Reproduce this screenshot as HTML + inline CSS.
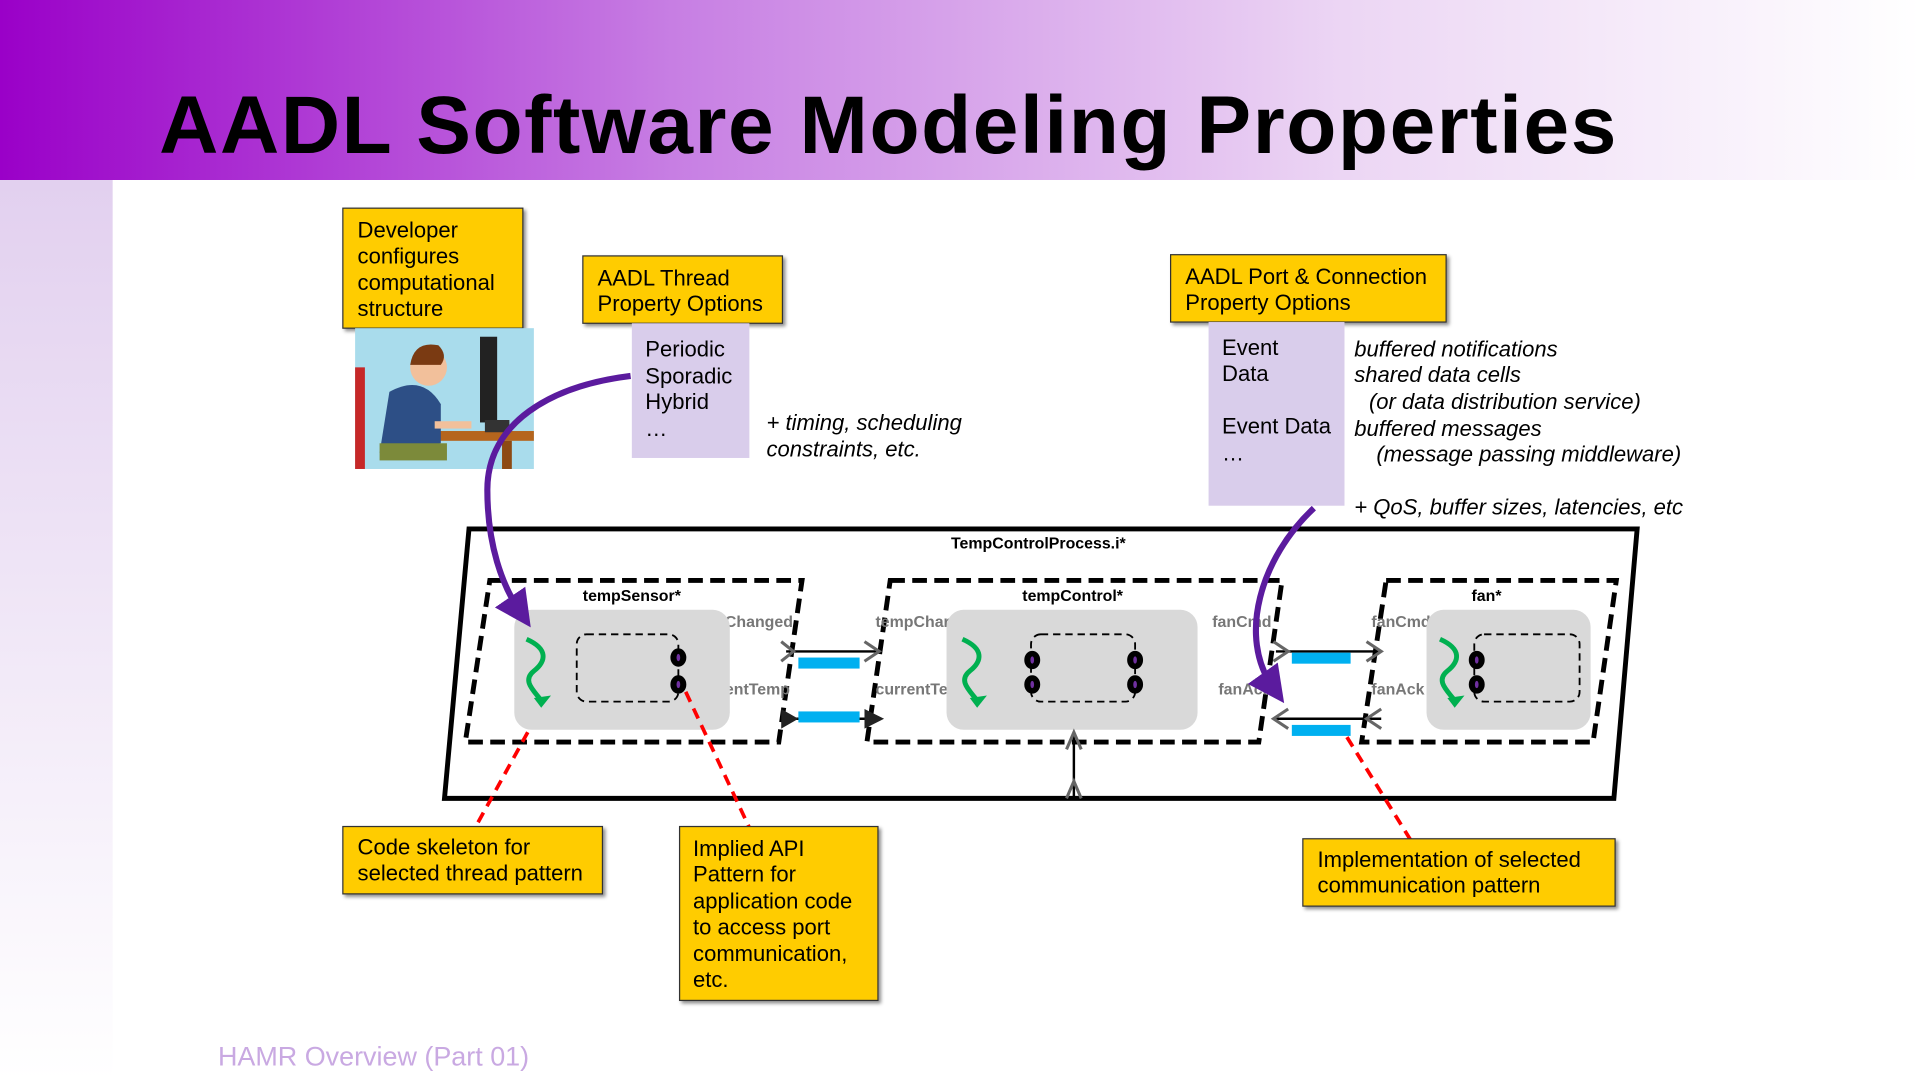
<!DOCTYPE html>
<html><head><meta charset="utf-8"><style>html,body{margin:0;padding:0;background:#fff;overflow:hidden}svg{display:block}</style></head><body>
<svg width="1920" height="1080" viewBox="0 0 1568 882" xmlns="http://www.w3.org/2000/svg" font-family="Liberation Sans, DejaVu Sans, sans-serif">
<defs>
<linearGradient id="hd" x1="0" x2="1" y1="0" y2="0"><stop offset="0" stop-color="#9a00c8"/><stop offset="0.35" stop-color="#c77ee3"/><stop offset="0.7" stop-color="#ecd6f4"/><stop offset="1" stop-color="#ffffff"/></linearGradient>
<linearGradient id="sb" x1="0" x2="0" y1="0" y2="1"><stop offset="0" stop-color="#e2d0ef"/><stop offset="1" stop-color="#ffffff"/></linearGradient>
<marker id="pa" markerWidth="6" markerHeight="6" refX="3" refY="3" orient="auto" markerUnits="strokeWidth"><path d="M0,0 L6,3 L0,6 Z" fill="#5b1b9e"/></marker>
<filter id="sh"><feDropShadow dx="2" dy="2" stdDeviation="1.5" flood-opacity="0.45"/></filter>
</defs>
<rect x="0" y="0" width="1568" height="147" fill="url(#hd)"/>
<rect x="0" y="147" width="92" height="735" fill="url(#sb)"/>
<text x="130" y="125" font-size="67" font-weight="bold" fill="#000" textLength="1190" lengthAdjust="spacing">AADL Software Modeling Properties</text>

<g font-size="18" fill="#000">
<rect x="280" y="170" width="147" height="98" fill="#ffcc00" stroke="#333" stroke-width="1" filter="url(#sh)"/>
<text x="292" y="194">Developer</text><text x="292" y="215">configures</text><text x="292" y="237">computational</text><text x="292" y="258">structure</text>
<rect x="476" y="209" width="163" height="55" fill="#ffcc00" stroke="#333" stroke-width="1" filter="url(#sh)"/>
<text x="488" y="233">AADL Thread</text><text x="488" y="254">Property Options</text>
<rect x="516" y="264" width="96" height="110" fill="#d9cdeb"/>
<text x="527" y="291">Periodic</text><text x="527" y="313">Sporadic</text><text x="527" y="334">Hybrid</text><text x="527" y="356">…</text>
<g font-style="italic"><text x="626" y="351">+ timing, scheduling</text><text x="626" y="373">constraints, etc.</text></g>
<rect x="956" y="208" width="225" height="55" fill="#ffcc00" stroke="#333" stroke-width="1" filter="url(#sh)"/>
<text x="968" y="232">AADL Port &amp; Connection</text><text x="968" y="253">Property Options</text>
<rect x="987" y="263" width="111" height="150" fill="#d9cdeb"/>
<text x="998" y="290">Event</text><text x="998" y="311">Data</text><text x="998" y="354">Event Data</text><text x="998" y="376">…</text>
<g font-style="italic"><text x="1106" y="291">buffered notifications</text><text x="1106" y="312">shared data cells</text><text x="1118" y="334">(or data distribution service)</text><text x="1106" y="356">buffered messages</text><text x="1124" y="377">(message passing middleware)</text><text x="1106" y="420">+ QoS, buffer sizes, latencies, etc</text></g>
</g>

<g>
<rect x="290" y="268" width="146" height="115" fill="#a9dcec"/>
<rect x="290" y="300" width="8" height="83" fill="#c62828"/>
<rect x="350" y="352" width="86" height="8" fill="#b5651d"/>
<rect x="410" y="360" width="8" height="23" fill="#8d4a14"/>
<rect x="392" y="275" width="14" height="70" fill="#222"/>
<rect x="396" y="343" width="20" height="10" fill="#333"/>
<circle cx="350" cy="300" r="15" fill="#f2c09b"/>
<path d="M335,298 Q338,278 358,282 Q366,290 360,298 Z" fill="#7a3a12"/>
<path d="M318,320 Q345,305 360,330 L360,362 L310,370 Z" fill="#2d4f86"/>
<rect x="310" y="362" width="55" height="14" fill="#7c8a3a"/>
<rect x="355" y="344" width="30" height="6" fill="#f2c09b"/>
</g>

<polygon points="383,432 1337,432 1318,652 363,652" fill="#fff" stroke="#000" stroke-width="4"/>
<text x="848" y="448" font-size="13" font-weight="bold" text-anchor="middle">TempControlProcess.i*</text>

<g fill="none" stroke="#000" stroke-width="4" stroke-dasharray="12,6">
<polygon points="400,474 655,474 636,606 380,606"/>
<polygon points="727,474 1047,474 1028,606 708,606"/>
<polygon points="1132,474 1320,474 1301,606 1112,606"/>
</g>
<g font-size="13" font-weight="bold" text-anchor="middle"><text x="516" y="491">tempSensor*</text><text x="876" y="491">tempControl*</text><text x="1214" y="491">fan*</text></g>

<g font-size="13" font-weight="bold" fill="#777">
<text x="592" y="512">Changed</text><text x="592" y="567">entTemp</text><text x="715" y="512">tempChar</text><text x="715" y="567">currentTe</text>
<text x="990" y="512">fanCmd</text><text x="995" y="567">fanAck</text><text x="1120" y="512">fanCmd</text><text x="1120" y="567">fanAck</text>
</g>
<g fill="#d9d9d9"><rect x="420" y="498" width="176" height="98" rx="14"/><rect x="773" y="498" width="205" height="98" rx="14"/><rect x="1165" y="498" width="134" height="98" rx="14"/></g>
<g fill="none" stroke="#000" stroke-width="1.5" stroke-dasharray="6,4">
<rect x="471" y="518" width="83" height="55" rx="8"/><rect x="842" y="518" width="85" height="55" rx="8"/><rect x="1204" y="518" width="86" height="55" rx="8"/>
</g>

<g stroke="#000" stroke-width="2" fill="none">
<line x1="642" y1="532" x2="718" y2="532"/><line x1="642" y1="587" x2="718" y2="587"/>
<line x1="1042" y1="532" x2="1128" y2="532"/><line x1="1042" y1="587" x2="1128" y2="587"/>
<line x1="877" y1="652" x2="877" y2="600"/>
</g>
<g fill="none" stroke="#666" stroke-width="2.5">
<path d="M638,524 L648,532 L638,540"/><path d="M706,524 L718,532 L706,540"/>
<path d="M1040,524 L1052,532 L1040,540"/><path d="M1116,524 L1128,532 L1116,540"/>
<path d="M1052,579 L1040,587 L1052,595"/><path d="M1128,579 L1116,587 L1128,595"/>
<path d="M871,612 L877,598 L883,612"/><path d="M871,652 L877,638 L883,652"/>
</g>
<path d="M638,579 L652,587 L638,595 Z M706,579 L722,587 L706,595 Z" fill="#222"/>
<g fill="#00b0f0"><rect x="652" y="537" width="50" height="9"/><rect x="652" y="581" width="50" height="9"/><rect x="1055" y="533" width="48" height="9"/><rect x="1055" y="592" width="48" height="9"/></g>

<g fill="none" stroke="#00b050" stroke-width="4">
<path d="M430,522 C448,530 446,540 436,548 C426,556 436,564 442,572"/>
<path d="M786,522 C804,530 802,540 792,548 C782,556 792,564 798,572"/>
<path d="M1176,522 C1194,530 1192,540 1182,548 C1172,556 1182,564 1188,572"/>
</g>
<g fill="#00b050"><path d="M436,570 L450,568 L442,578 Z"/><path d="M792,570 L806,568 L798,578 Z"/><path d="M1182,570 L1196,568 L1188,578 Z"/></g>
<g fill="#000" stroke="#000"><ellipse cx="554" cy="537" rx="6" ry="7"/><ellipse cx="554" cy="559" rx="6" ry="7"/><ellipse cx="843" cy="539" rx="6" ry="7"/><ellipse cx="843" cy="559" rx="6" ry="7"/><ellipse cx="927" cy="539" rx="6" ry="7"/><ellipse cx="927" cy="559" rx="6" ry="7"/><ellipse cx="1206" cy="539" rx="6" ry="7"/><ellipse cx="1206" cy="559" rx="6" ry="7"/></g>
<g fill="#7030a0"><ellipse cx="554" cy="537" rx="1.5" ry="3"/><ellipse cx="554" cy="559" rx="1.5" ry="3"/><ellipse cx="843" cy="539" rx="1.5" ry="3"/><ellipse cx="843" cy="559" rx="1.5" ry="3"/><ellipse cx="927" cy="539" rx="1.5" ry="3"/><ellipse cx="927" cy="559" rx="1.5" ry="3"/><ellipse cx="1206" cy="539" rx="1.5" ry="3"/><ellipse cx="1206" cy="559" rx="1.5" ry="3"/></g>

<g fill="none" stroke="#5b1b9e" stroke-width="5">
<path d="M515,307 C450,315 398,345 398,400 C398,445 410,478 425,500" marker-end="url(#pa)"/>
<path d="M1073,415 C1030,455 1010,520 1040,562" marker-end="url(#pa)"/>
</g>

<g stroke="#ff0000" stroke-width="3" stroke-dasharray="9,6" fill="none">
<line x1="431" y1="598" x2="388" y2="676"/><line x1="560" y1="565" x2="612" y2="676"/><line x1="1100" y1="602" x2="1152" y2="686"/>
</g>

<g font-size="18" fill="#000">
<rect x="280" y="675" width="212" height="55" fill="#ffcc00" stroke="#333" stroke-width="1" filter="url(#sh)"/>
<text x="292" y="698">Code skeleton for</text><text x="292" y="719">selected thread pattern</text>
<rect x="555" y="675" width="162" height="142" fill="#ffcc00" stroke="#333" stroke-width="1" filter="url(#sh)"/>
<text x="566" y="699">Implied API</text><text x="566" y="720">Pattern for</text><text x="566" y="742">application code</text><text x="566" y="763">to access port</text><text x="566" y="785">communication,</text><text x="566" y="806">etc.</text>
<rect x="1064" y="685" width="255" height="55" fill="#ffcc00" stroke="#333" stroke-width="1" filter="url(#sh)"/>
<text x="1076" y="708">Implementation of selected</text><text x="1076" y="729">communication pattern</text>
</g>
<text x="178" y="870" font-size="22" fill="#c9a9e2">HAMR Overview (Part 01)</text>
</svg>
</body></html>
